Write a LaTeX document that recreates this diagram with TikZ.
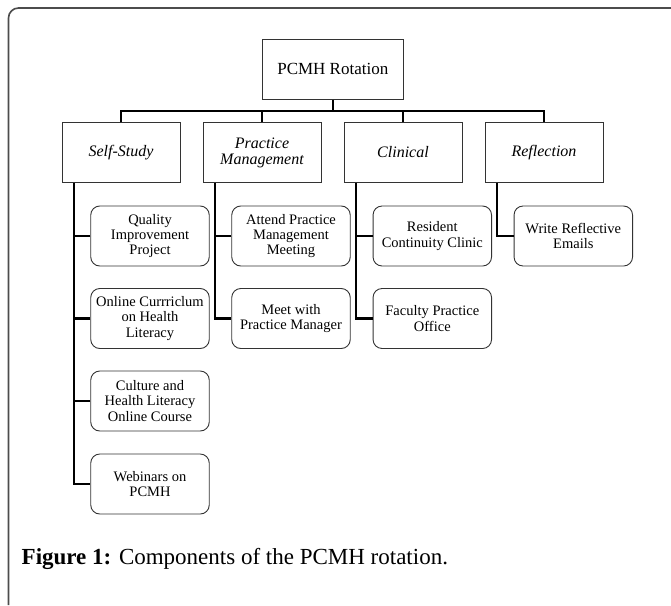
\documentclass[tikz,border=0pt]{standalone}
\usepackage{fontspec}
\setmainfont{Liberation Serif}

\begin{document}
\begin{tikzpicture}[x=1pt, y=-1pt,
    rootbox/.style={draw=black!80, line width=0.9pt, minimum width=141pt, minimum height=60pt, font=\fontsize{17}{19}\selectfont},
    catbox/.style={draw=black!80, line width=0.9pt, minimum width=118pt, minimum height=59.5pt, align=center, font=\fontsize{16}{16}\selectfont\itshape},
    itembox/.style={draw=black!80, line width=0.9pt, rounded corners=9pt, minimum width=118.5pt, minimum height=60pt, align=center, inner sep=1pt, font=\fontsize{14.5}{15.3}\selectfont},
    link/.style={line width=2.6pt}]
    \useasboundingbox (0,0) rectangle (671,605);

    % Cadre
    \draw[black!70, line width=1.6pt, rounded corners=10pt] (671,8) -- (8.5,8) -- (8.5,605);

    \node[rootbox] (root) at (332.8,69.3) {PCMH Rotation};
    \node[catbox] (self) at (121,152.5) {Self-Study};
    \node[catbox] (mgmt) at (262,152.5) {Practice\\Management};
    \node[catbox] (clin) at (403,152.5) {Clinical};
    \node[catbox] (refl) at (544,152.5) {Reflection};

    % Barre horizontale
    \coordinate (bar) at (332.8,111);
    \draw[link] (root.south) -- (bar);
    \draw[link] (self.north) |- (bar) -| (refl.north);
    \foreach \c in {mgmt,clin}
        \draw[link] (\c.north) -- (\c.north |- bar);

    % Feuilles
    \node[itembox] (q1) at (150,236) {Quality\\Improvement\\Project};
    \node[itembox] (q2) at (150,318.5) {Online Currriclum\\on Health\\Literacy};
    \node[itembox] (q3) at (150,401) {Culture and\\Health Literacy\\Online Course};
    \node[itembox] (q4) at (150,484) {Webinars on\\PCMH};
    \node[itembox] (m1) at (291,236) {Attend Practice\\Management\\Meeting};
    \node[itembox] (m2) at (291,318.5) {Meet with\\Practice Manager};
    \node[itembox] (c1) at (432.3,236) {Resident\\Continuity Clinic};
    \node[itembox] (c2) at (432.3,318.5) {Faculty Practice\\Office};
    \node[itembox] (r1) at (573.3,236) {Write Reflective\\Emails};

    % Colonnes verticales
    \coordinate (sspine) at ([xshift=12.3pt]self.south west);
    \coordinate (mspine) at ([xshift=12.3pt]mgmt.south west);
    \coordinate (cspine) at ([xshift=12.3pt]clin.south west);
    \coordinate (rspine) at ([xshift=12.3pt]refl.south west);
    \draw[link] (sspine) |- (q4.west);
    \foreach \n in {q1,q2,q3}
        \draw[link] (\n.west) -- (\n.west -| sspine);
    \draw[link] (mspine) |- (m2.west);
    \draw[link] (m1.west) -- (m1.west -| mspine);
    \draw[link] (cspine) |- (c2.west);
    \draw[link] (c1.west) -- (c1.west -| cspine);
    \draw[link] (rspine) |- (r1.west);

    \node[anchor=base west, inner sep=0pt, font=\fontsize{23}{26}\selectfont] (caption) at (21.5,564) {\textbf{Figure 1:} Components of the PCMH rotation.};
\end{tikzpicture}
\end{document}
